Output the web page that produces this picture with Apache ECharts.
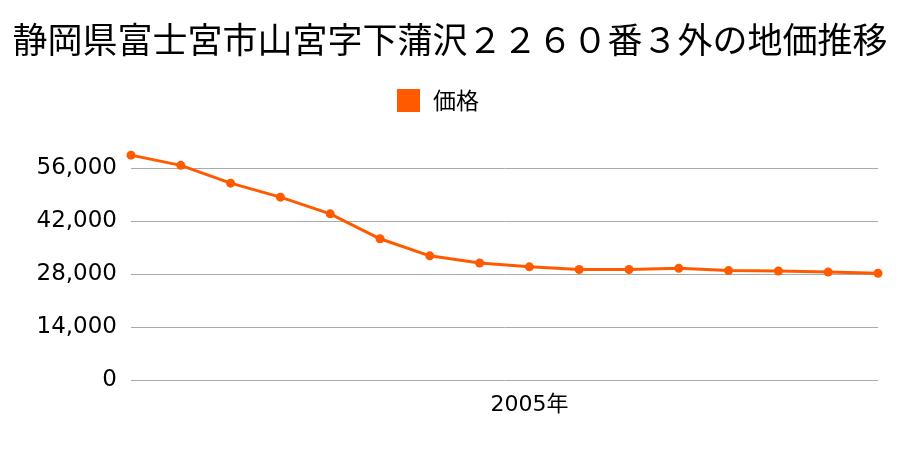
<!DOCTYPE html>
<html><head><meta charset="utf-8">
<script src="https://cdn.jsdelivr.net/npm/echarts@6/dist/echarts.min.js"></script>
<style>html,body{margin:0;padding:0;background:#fff}#c{width:900px;height:450px}</style>
</head><body><div id="c"></div>
<script>
const titleText = '静岡県富士宮市山宮字下蒲沢２２６０番３外の地価推移';
const seriesName = '価格';
const years = ['1997','1998','1999','2000','2001','2002','2003','2004','2005','2006','2007','2008','2009','2010','2011','2012'];
const prices = [59400,56700,52000,48300,43900,37300,32800,30900,29900,29200,29200,29500,28900,28800,28500,28200];
const shownYears = ['2005'];
const yTicks = {min:0, max:56000, interval:14000};

const font = '"Noto Sans CJK JP", "Noto Sans", sans-serif';
const numFont = '"DejaVu Sans", "Noto Sans CJK JP", sans-serif';
const chart = echarts.init(document.getElementById('c'), null, {renderer:'canvas'});
chart.setOption({
  animation:false,
  backgroundColor:'#fff',
  title:{text:titleText,left:'center',top:17,textStyle:{fontFamily:font,fontSize:35,fontWeight:'normal',color:'#000'}},
  legend:{data:[seriesName],top:84,left:392,icon:'rect',itemWidth:23,itemHeight:23,itemGap:13,
    textStyle:{fontFamily:font,fontSize:23,color:'#000',padding:[0,0,0,8]}},
  grid:{left:131,right:22,top:168,bottom:70,containLabel:false},
  xAxis:{type:'category',data:years,boundaryGap:false,
    axisLine:{show:false},axisTick:{show:false},splitLine:{show:false},
    axisLabel:{interval:function(i,v){return shownYears.indexOf(v)>=0;},formatter:function(v){return v+'年';},
      fontFamily:numFont,fontSize:22,color:'#000',margin:14}},
  yAxis:{type:'value',min:yTicks.min,max:yTicks.max,interval:yTicks.interval,
    axisLine:{show:false},axisTick:{show:false},
    splitLine:{lineStyle:{color:'#aaaaaa',width:1}},
    axisLabel:{fontFamily:numFont,fontSize:23,color:'#000',margin:14,padding:[10,0,0,0],
      formatter:function(v){return v.toLocaleString('en-US');}}},
  series:[{name:seriesName,type:'line',data:prices,clip:false,
    symbol:'circle',symbolSize:9,
    lineStyle:{color:'#ff5a00',width:3},itemStyle:{color:'#ff5a00'}}]
});
</script></body></html>
